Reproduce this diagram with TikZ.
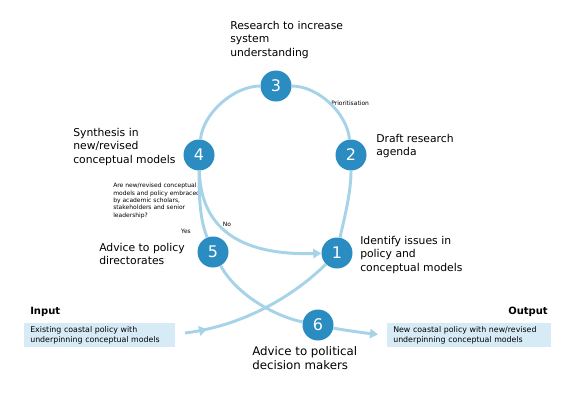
\documentclass[tikz,border=0pt]{standalone}
\usepackage{fontspec}
\setmainfont{DejaVu Sans}
\usetikzlibrary{arrows.meta,decorations.markings}
\definecolor{stageblue}{HTML}{2B8CC2}
\definecolor{flowblue}{HTML}{A6D3E8}
\definecolor{boxblue}{HTML}{D6EBF6}

\begin{document}
\begin{tikzpicture}[x=0.75pt,y=0.75pt,yscale=-1,xscale=1,
    stage/.style={circle,fill=stageblue,text=white,minimum size=23.25pt,inner sep=0pt,font=\fontsize{12}{12}\selectfont},
    flow/.style={color=flowblue,line width=2.2pt},
    tip/.style={-{Triangle[length=6pt,width=7pt]}},
    lbl/.style={anchor=north west,inner sep=0.75pt,align=left,font=\fontsize{8.1}{10}\selectfont},
    note/.style={inner sep=0.75pt,align=left,font=\fontsize{4.5}{5.5}\selectfont},
    iobox/.style={anchor=north west,fill=boxblue,inner xsep=4.5pt,inner ysep=0pt,minimum height=18pt,align=left,font=\fontsize{5.9}{7}\selectfont}]
    \useasboundingbox (0,0) rectangle (574,400);

    % Stages
    \node (n1) [stage] at (337,253) {1};
    \node (n2) [stage] at (351,155) {2};
    \node (n3) [stage] at (276,86) {3};
    \node (n4) [stage] at (199,155) {4};
    \node (n5) [stage] at (213,252) {5};
    \node (n6) [stage] at (318,325) {6};

    % Text Node
    \node (t1) [lbl] at (359,235) {Identify issues in\\policy and\\conceptual models};
    \node (t2) [lbl] at (375,133) {Draft research\\agenda};
    \node (t3) [lbl] at (229,20) {Research to increase\\system\\understanding};
    \node (t4) [lbl] at (72,127) {Synthesis in\\new/revised\\conceptual models};
    \node (t5) [lbl] at (98,242) {Advice to policy\\directorates};
    \node (t6) [lbl,font=\fontsize{8.85}{10.7}\selectfont] at (251,345) {Advice to political\\decision makers};
    % Small Text
    \node (prio) [note,anchor=west] at (330,103) {Prioritisation};
    \node (ask) [note,anchor=north west] at (112,182) {Are new/revised conceptual\\models and policy embraced\\by academic scholars,\\stakeholders and senior\\leadership?};
    \node (no) [note] at (227,224) {No};
    \node (yes) [note] at (186,231) {Yes};

    % Input / Output
    \node (inlbl) [anchor=west,inner sep=0.75pt,font=\bfseries\fontsize{7.5}{9}\selectfont] at (29,312) {Input};
    \node (outlbl) [anchor=east,inner sep=0.75pt,font=\bfseries\fontsize{7.5}{9}\selectfont] at (549,312) {Output};
    \node (inbox) [iobox,text width=104pt] at (24,323) {Existing coastal policy with\\underpinning conceptual models};
    \node (outbox) [iobox,text width=114pt] at (387,323) {New coastal policy with new/revised\\underpinning conceptual models};
    \coordinate (instart) at (185,333);

    % Loop
    \draw [flow] (n1) .. controls +(6,-30) and +(0,40) .. (n2);
    \draw [flow] (n2) .. controls +(-4,-42) and +(42,0) .. (n3);
    \draw [flow] (n3) .. controls +(-42,0) and +(4,-42) .. (n4);
    % Yes / No
    \draw [flow] (n4) .. controls +(0,50) and +(-12,-30) .. (n5);
    \draw [flow,tip] (n4) .. controls +(2,85) and +(-80,2) .. (n1);
    % Advice paths
    \draw [flow] (n5) .. controls +(25,45) and +(-40,-8) .. (n6);
    \draw [flow,tip,shorten >=6.75pt] (n6) .. controls +(25,5) and +(-20,-2) .. (outbox.west);
    \draw [flow,postaction={decorate},decoration={markings,mark=at position 0.14 with {\arrow{Triangle[length=6pt,width=7pt]}}}] (instart) .. controls +(65,-8) and +(-37,37) .. (n1);
\end{tikzpicture}
\end{document}
